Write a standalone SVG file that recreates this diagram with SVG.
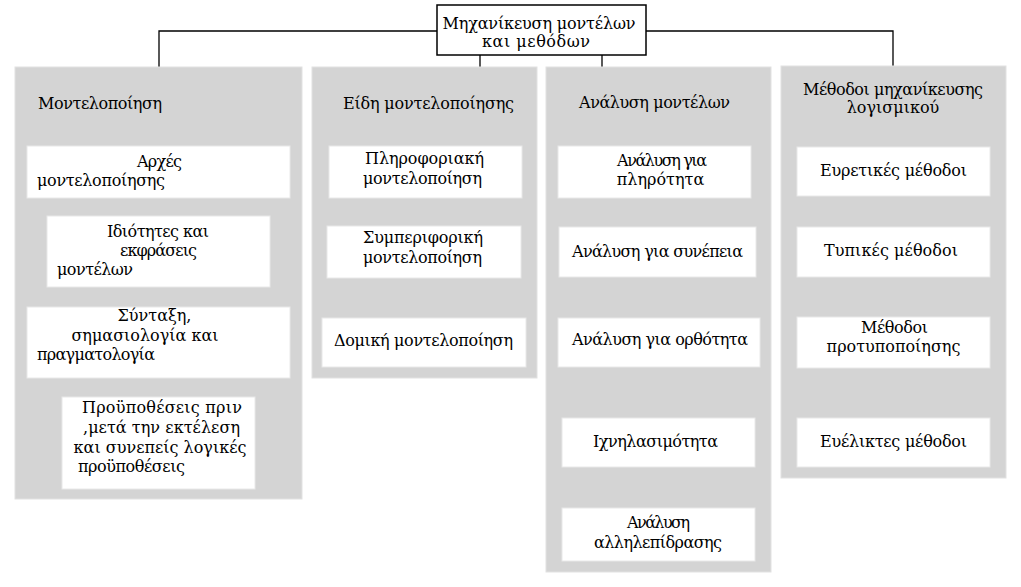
<svg xmlns="http://www.w3.org/2000/svg" width="1021" height="587" viewBox="0 0 1021 587">
<style>
.bg{fill:#ffffff}
.panel{fill:#d4d4d4;stroke:#e2e2e2;stroke-width:1}
.box{fill:#ffffff;stroke:#e8e8e8;stroke-width:1}
.root{fill:#ffffff;stroke:#000000;stroke-width:1.5}
.conn{fill:none;stroke:#000000;stroke-width:1.3}
text{font-family:"DejaVu Serif","Liberation Serif",serif;font-size:16px;fill:#000000;text-anchor:middle}
</style>
<rect class="bg" x="0" y="0" width="1021" height="587"/>
<g id="connectors">
<path class="conn" d="M159,78 V31 H893 V76"/>
<path class="conn" d="M480,55 V78"/>
<path class="conn" d="M602,55 V78"/>
</g>
<g id="root">
<rect class="root" x="437" y="5" width="209" height="50"/>
<text x="539" y="29" textLength="193">Μηχανίκευση μοντέλων</text>
<text x="536" y="47" textLength="108">και μεθόδων</text>
</g>
<g id="panel-modelling">
<rect class="panel" x="15" y="67" width="287" height="432"/>
<text x="100" y="109" textLength="124">Μοντελοποίηση</text>
</g>
<g id="panel-types">
<rect class="panel" x="312" y="67" width="225" height="311"/>
<text x="428.5" y="109" textLength="171">Είδη μοντελοποίησης</text>
</g>
<g id="panel-analysis">
<rect class="panel" x="546" y="67" width="225" height="505"/>
<text x="654.5" y="108" textLength="151">Ανάλυση μοντέλων</text>
</g>
<g id="panel-methods">
<rect class="panel" x="781" y="66" width="225" height="412"/>
<text x="893" y="95" textLength="180">Μέθοδοι μηχανίκευσης</text>
<text x="893" y="113">λογισμικού</text>
</g>
<g id="node-principles">
<rect class="box" x="27" y="146" width="263" height="52"/>
<text x="159.5" y="167" textLength="45">Αρχές</text>
<text x="101" y="186" textLength="128">μοντελοποίησης</text>
</g>
<g id="node-properties">
<rect class="box" x="47" y="216" width="223" height="71"/>
<text x="158" y="237" textLength="102">Ιδιότητες και</text>
<text x="158.5" y="256" textLength="77">εκφράσεις</text>
<text x="95" y="275" textLength="76">μοντέλων</text>
</g>
<g id="node-syntax">
<rect class="box" x="27" y="307" width="263" height="71"/>
<text x="154.5" y="321">Σύνταξη,</text>
<text x="145" y="341">σημασιολογία και</text>
<text x="96" y="360" textLength="118">πραγματολογία</text>
</g>
<g id="node-conditions">
<rect class="box" x="62" y="397" width="193" height="92"/>
<text x="162" y="413" textLength="160">Προϋποθέσεις πριν</text>
<text x="161.5" y="433" textLength="157">,μετά την εκτέλεση</text>
<text x="160" y="453">και συνεπείς λογικές</text>
<text x="131.5" y="472" textLength="107">προϋποθέσεις</text>
</g>
<g id="node-info">
<rect class="box" x="329" y="146" width="193" height="52"/>
<text x="424.5" y="164" textLength="119">Πληροφοριακή</text>
<text x="422.5" y="184" textLength="119">μοντελοποίηση</text>
</g>
<g id="node-behaviour">
<rect class="box" x="327" y="226" width="194" height="52"/>
<text x="423" y="243" textLength="120">Συμπεριφορική</text>
<text x="422.5" y="263" textLength="119">μοντελοποίηση</text>
</g>
<g id="node-structural">
<rect class="box" x="322" y="318" width="204" height="49"/>
<text x="423.5" y="346" textLength="179">Δομική μοντελοποίηση</text>
</g>
<g id="node-completeness">
<rect class="box" x="558" y="146" width="193" height="52"/>
<text x="662" y="166" textLength="90">Ανάλυση για</text>
<text x="660.5" y="185">πληρότητα</text>
</g>
<g id="node-consistency">
<rect class="box" x="559" y="227" width="197" height="50"/>
<text x="657.5" y="257" textLength="171">Ανάλυση για συνέπεια</text>
</g>
<g id="node-correctness">
<rect class="box" x="558" y="318" width="202" height="49"/>
<text x="660" y="345" textLength="176">Ανάλυση για ορθότητα</text>
</g>
<g id="node-traceability">
<rect class="box" x="562" y="418" width="193" height="49"/>
<text x="655.5" y="447" textLength="125">Ιχνηλασιμότητα</text>
</g>
<g id="node-interaction">
<rect class="box" x="562" y="508" width="193" height="53"/>
<text x="658.5" y="528" textLength="63">Ανάλυση</text>
<text x="658" y="548" textLength="128">αλληλεπίδρασης</text>
</g>
<g id="node-heuristic">
<rect class="box" x="797" y="147" width="193" height="49"/>
<text x="893.5" y="176" textLength="147">Ευρετικές μέθοδοι</text>
</g>
<g id="node-formal">
<rect class="box" x="797" y="227" width="193" height="50"/>
<text x="891" y="256" textLength="134">Τυπικές μέθοδοι</text>
</g>
<g id="node-prototyping">
<rect class="box" x="797" y="317" width="193" height="51"/>
<text x="894.5" y="333" textLength="67">Μέθοδοι</text>
<text x="893.5" y="352">προτυποποίησης</text>
</g>
<g id="node-agile">
<rect class="box" x="797" y="418" width="193" height="49"/>
<text x="893.5" y="447" textLength="147">Ευέλικτες μέθοδοι</text>
</g>
</svg>
